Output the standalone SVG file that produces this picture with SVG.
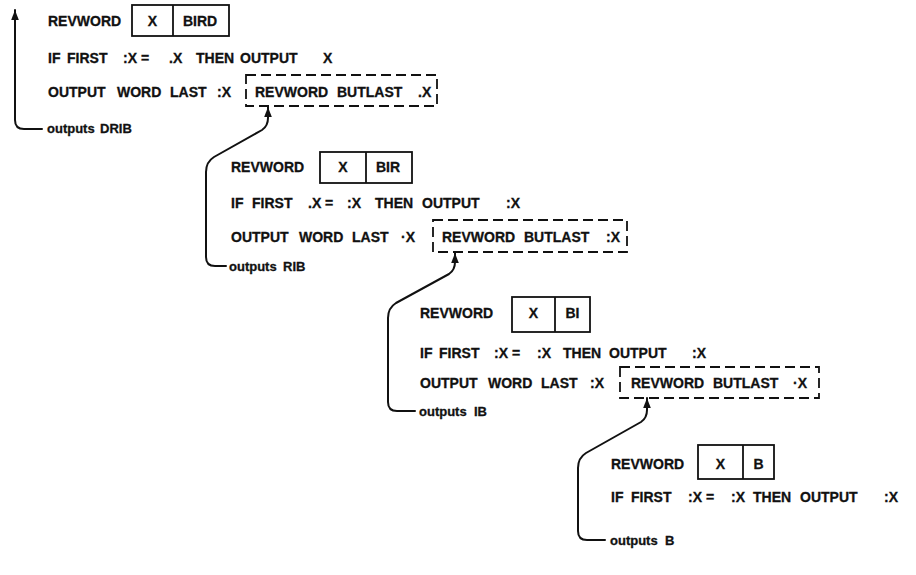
<svg xmlns="http://www.w3.org/2000/svg" width="916" height="575" viewBox="0 0 916 575">
<defs>
<marker id="ah" markerUnits="userSpaceOnUse" markerWidth="10" markerHeight="12" viewBox="0 0 10 12" refX="10" refY="6" orient="auto">
<path d="M0,2.2 L10,6 L0,9.8 Z" fill="#111"/>
</marker>
<style>
text{font-family:"Liberation Sans",Arial,Helvetica,sans-serif;font-weight:bold;font-size:14px;fill:#111;stroke:#111;stroke-width:0.3}
.lo{font-size:13px}
.mid{text-anchor:middle}
.box{fill:none;stroke:#111;stroke-width:1.8}
.dash{fill:none;stroke:#111;stroke-width:1.8;stroke-dasharray:10 5}
.conn{fill:none;stroke:#111;stroke-width:2;stroke-linecap:round;stroke-linejoin:round}
</style>
</defs>
<rect width="916" height="575" fill="#fff"/>

<g id="connectors">
<path class="conn" d="M42,129 L24,129 Q15,129 15,120 L15,10" marker-end="url(#ah)"/>
<path class="conn" d="M226,266 L215,266 Q206,266 206,257 L206,172 Q206,162 214,157 L262,130 Q268,126 268,118 L268,107" marker-end="url(#ah)"/>
<path class="conn" d="M415,411 L397,411 Q388,411 388,402 L388,318 Q388,308 396,303 L449,274 Q455,270 455,262 L455,253" marker-end="url(#ah)"/>
<path class="conn" d="M605,540 L587,540 Q578,540 578,531 L578,468 Q578,458 586,453 L641,422 Q647,418 647,410 L647,398" marker-end="url(#ah)"/>
</g>

<g id="call1">
<text x="48" y="26">REVWORD</text>
<rect class="box" x="132" y="5" width="97" height="31"/>
<line class="box" x1="173" y1="5" x2="173" y2="36"/>
<text class="mid" x="152.5" y="26">X</text>
<text class="mid" x="200" y="26">BIRD</text>
<text y="63"><tspan x="48">IF</tspan><tspan x="67">FIRST</tspan><tspan x="123">:X =</tspan><tspan x="169">.X</tspan><tspan x="196">THEN</tspan><tspan x="240">OUTPUT</tspan><tspan x="323">X</tspan></text>
<text y="97"><tspan x="48">OUTPUT</tspan><tspan x="117">WORD</tspan><tspan x="170">LAST</tspan><tspan x="217">:X</tspan></text>
<rect class="dash" x="246" y="75" width="191" height="31"/>
<text y="97"><tspan x="255">REVWORD</tspan><tspan x="337">BUTLAST</tspan><tspan x="418">.X</tspan></text>
<text class="lo" y="133"><tspan x="47">outputs</tspan><tspan x="100">DRIB</tspan></text>
</g>

<g id="call2">
<text x="231" y="172">REVWORD</text>
<rect class="box" x="320" y="152" width="92" height="31"/>
<line class="box" x1="366" y1="152" x2="366" y2="183"/>
<text class="mid" x="343" y="172">X</text>
<text class="mid" x="388" y="172">BIR</text>
<text y="208"><tspan x="231">IF</tspan><tspan x="252">FIRST</tspan><tspan x="308">.X =</tspan><tspan x="347">:X</tspan><tspan x="375">THEN</tspan><tspan x="422">OUTPUT</tspan><tspan x="506">:X</tspan></text>
<text y="242"><tspan x="231">OUTPUT</tspan><tspan x="299">WORD</tspan><tspan x="352">LAST</tspan><tspan x="401">·X</tspan></text>
<rect class="dash" x="433" y="220" width="194" height="32"/>
<text y="242"><tspan x="442">REVWORD</tspan><tspan x="524">BUTLAST</tspan><tspan x="606">:X</tspan></text>
<text class="lo" y="271"><tspan x="229">outputs</tspan><tspan x="283">RIB</tspan></text>
</g>

<g id="call3">
<text x="420" y="318">REVWORD</text>
<rect class="box" x="512" y="297" width="78" height="35"/>
<line class="box" x1="555" y1="297" x2="555" y2="332"/>
<text class="mid" x="533.5" y="318">X</text>
<text class="mid" x="572.5" y="318">BI</text>
<text y="358"><tspan x="420">IF</tspan><tspan x="439">FIRST</tspan><tspan x="494">:X =</tspan><tspan x="537">:X</tspan><tspan x="563">THEN</tspan><tspan x="609">OUTPUT</tspan><tspan x="692">:X</tspan></text>
<text y="388"><tspan x="420">OUTPUT</tspan><tspan x="488">WORD</tspan><tspan x="541">LAST</tspan><tspan x="590">:X</tspan></text>
<rect class="dash" x="620" y="367" width="199" height="31"/>
<text y="388"><tspan x="631">REVWORD</tspan><tspan x="713">BUTLAST</tspan><tspan x="793">·X</tspan></text>
<text class="lo" y="416"><tspan x="419">outputs</tspan><tspan x="474">IB</tspan></text>
</g>

<g id="call4">
<text x="611" y="469">REVWORD</text>
<rect class="box" x="698" y="445" width="76" height="34"/>
<line class="box" x1="743" y1="445" x2="743" y2="479"/>
<text class="mid" x="720.5" y="469">X</text>
<text class="mid" x="758.5" y="469">B</text>
<text y="502"><tspan x="611">IF</tspan><tspan x="631">FIRST</tspan><tspan x="688">:X =</tspan><tspan x="731">:X</tspan><tspan x="753">THEN</tspan><tspan x="800">OUTPUT</tspan><tspan x="884">:X</tspan></text>
<text class="lo" y="545"><tspan x="610">outputs</tspan><tspan x="665">B</tspan></text>
</g>
</svg>
